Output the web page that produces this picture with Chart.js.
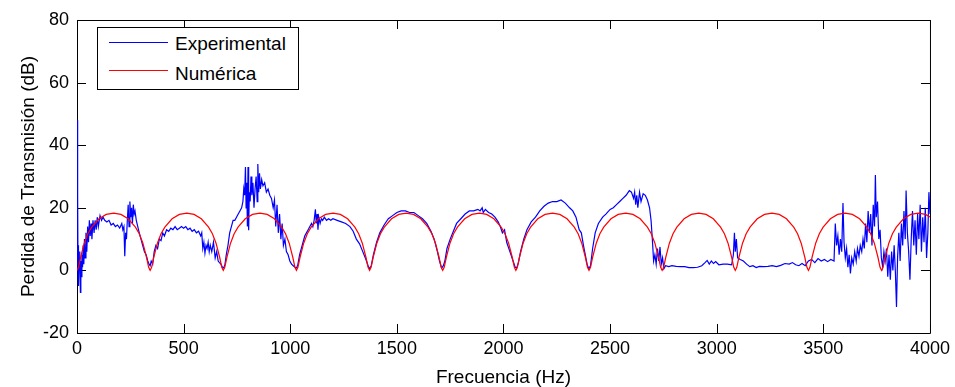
<!DOCTYPE html>
<html>
<head>
<meta charset="utf-8">
<script src="https://cdn.jsdelivr.net/npm/chart.js@4"></script>
<style>
html, body { margin: 0; padding: 0; background: #fff; }
#wrap { position: relative; width: 955px; height: 387px; }
#legend { position: absolute; left: 97px; top: 27px; width: 200px; height: 61px; border: 1px solid #000; background: #fff;
  font-family: "Liberation Sans", Arial, sans-serif; font-size: 19px; line-height: 19px; color: #000; }
.swatch { position: absolute; left: 11px; width: 59px; height: 1.4px; }
.lbl { position: absolute; left: 77px; white-space: nowrap; }
</style>
</head>
<body>
<div id="wrap">
  <canvas id="tl" width="955" height="387"></canvas>
  <div id="legend">
    <div class="swatch" style="top:14px;background:#0000ff"></div>
    <div class="lbl" style="top:6px">Experimental</div>
    <div class="swatch" style="top:42px;background:#ff0000"></div>
    <div class="lbl" style="top:36px">Numérica</div>
  </div>
</div>
<script>
// axis ticks
let xTicks = [0, 500, 1000, 1500, 2000, 2500, 3000, 3500, 4000];
let yTicks = [-20, 0, 20, 40, 60, 80];

// experimental curve (Hz, dB)
let expFreq = [
  0,2,3,4,5,6,8,10,12,14,16,18,20,23,26,29,32,35,38,42,46,50,54,58,62,66,70,75,80,85,90,95,100,108,115,122,130,140,150,160,170,180,190,200,210,215,220,224,228,232,236,240,244,248,252,256,260,264,268,272,278,285,292,300,308,316,324,332,338,343,348,355,362,370,378,386,394,402,410,420,430,440,450,460,470,480,490,500,510,520,530,540,550,560,570,580,585,590,595,600,605,610,615,620,625,632,640,648,655,662,668,675,682,688,694,700,708,716,724,732,740,748,756,764,772,778,782,786,790,793,796,799,802,805,808,812,816,820,825,830,835,840,845,848,852,856,860,866,872,880,888,896,904,912,920,926,932,938,944,950,956,962,968,975,982,990,998,1006,1014,1022,1030,1036,1044,1052,1060,1068,1076,1084,1092,1100,1106,1112,1118,1122,1126,1130,1134,1140,1146,1152,1160,1170,1180,1190,1200,1220,1240,1260,1280,1295,1310,1325,1340,1355,1365,1372,1380,1390,1405,1420,1440,1460,1480,1500,1520,1540,1560,1580,1600,1620,1640,1660,1675,1690,1700,1710,1718,1725,1735,1750,1765,1780,1800,1820,1840,1860,1880,1890,1900,1905,1915,1930,1945,1960,1975,1985,1995,2005,2015,2030,2045,2055,2062,2070,2080,2095,2110,2130,2150,2170,2190,2210,2230,2250,2270,2290,2310,2325,2340,2355,2365,2375,2385,2392,2400,2408,2418,2430,2445,2465,2480,2500,2515,2530,2545,2560,2575,2590,2600,2610,2615,2620,2625,2630,2638,2645,2655,2665,2675,2685,2692,2698,2704,2710,2716,2722,2728,2734,2740,2746,2752,2760,2775,2790,2810,2830,2850,2870,2890,2910,2930,2945,2955,2965,2975,2985,2995,3010,3030,3050,3070,3078,3083,3087,3092,3098,3110,3125,3140,3155,3170,3185,3200,3220,3240,3260,3280,3300,3320,3340,3355,3370,3385,3400,3415,3430,3445,3460,3475,3490,3505,3520,3535,3550,3556,3562,3568,3574,3580,3586,3592,3597,3603,3609,3615,3621,3627,3633,3640,3647,3654,3660,3667,3673,3680,3686,3692,3698,3704,3710,3716,3722,3728,3734,3740,3744,3748,3754,3760,3766,3772,3778,3784,3790,3796,3802,3808,3814,3820,3826,3832,3838,3843,3848,3854,3860,3866,3872,3878,3884,3888,3894,3900,3906,3912,3918,3924,3930,3936,3942,3948,3954,3960,3966,3972,3978,3984,3990,3995,4000
];
let expTL = [
  2,48,5,24,-3,8,-5,4,0,6,-7,3,-2,5,1,8,2,10,4,12,6,14,9,16,11,15,10,16,12,16,13,17,14,17.5,16,17,16,15.5,16,14.5,15,14,14.5,13.5,15,13,14,4.5,12,10,16,21,14,22,17,20,15,21,18,19,16,14,12,10,8,6,5,3,2,1.5,3,2,6,8,7,10,9.5,12,11,13,12.5,13.5,13,14,13,13.5,14,13.5,14,13,13.5,12.5,13,12,12.5,11,12,7,9,5.5,8,7,9,6,8,6,9,4,6,3,2.5,2,1,0.8,2,5,8,12,14,16,16,17,18,19,20,22,26,24,33,20,28,14,33,12.8,25,22,30,24,28,20,26,30,22,34,25,31,26,29,27,28,25,26,24,23,20,22.5,14,21,12,18,10,15,8,10,6,5,3,2,1.5,1,0.8,2,5,7,9,11,12,13,14,15,14,16,19.5,15,18,13,17,15,16.5,16,17,16,16.5,16,16.5,16,15.5,15,14,12.5,10,8.5,6,3.5,1.5,0.5,1.5,5,9,12,14.5,16.5,17.5,18.5,19,19,18.5,18.5,17.5,16.5,15,12.5,10,6,3,0.7,1.5,3,7,10,12.5,15,16.5,18,19,19,19.5,19,20,18.5,19.5,18.5,18,17,15.5,14,12,13,9,6,3,1,0.8,2.5,6,10,13,15.5,17,19,20.5,21.5,22,22,22.5,21.5,20,19,17,13,12,8,4.5,2,0.5,1.5,7,12,15,17,18,19.5,20,21,22,23,24,25.5,25,23,25,21,24,20,25,22,24.5,24,22.5,20,16,10,3,5,2,7,3,7.5,2,4,0.5,1.5,1.2,1.5,1.3,1.2,1.2,0.9,0.9,1,1.5,2.5,3.2,2,3,2.2,2.8,1.8,2,2,1.8,5,12,6,10,4,3.5,3,2,1.2,1.5,0.9,1.3,1.2,1.3,1.5,1.2,1.6,2.2,2,2.5,1.8,1.5,2.2,1.5,3,3.5,2.5,3.8,3,3.5,2.8,3.5,3,15,8,11,5,10,6,21.5,9,4,7,1,5,-1,4,2,6,3,7,4.5,8,6,10,7,15,9,19,12,18,8,21,14,30.5,17,22,10,13,4,1.2,6,3,7,-2,5,-3,6,0,8,-1,-11.7,4,12,3,15,8,19,10,25.5,12,6,-3,10,19,8,16,5,18,10,21,6,17,9,20,4,12,25,18
];

// numerical curve (Hz, dB)
let numFreq = [
  0,7,17,34,51,69,103,137,172,206,240,274,292,309,326,336,
  343,350,360,377,394,412,446,480,515,549,583,617,635,652,669,679,
  686,693,703,720,737,755,789,823,858,892,926,960,978,995,1012,1022,
  1029,1036,1046,1063,1080,1098,1132,1166,1201,1235,1269,1303,1321,1338,1355,1365,
  1372,1379,1389,1406,1423,1441,1475,1509,1544,1578,1612,1646,1664,1681,1698,1708,
  1715,1722,1732,1749,1766,1784,1818,1852,1887,1921,1955,1989,2007,2024,2041,2051,
  2058,2065,2075,2092,2109,2127,2161,2195,2230,2264,2298,2332,2350,2367,2384,2394,
  2401,2408,2418,2435,2452,2470,2504,2538,2573,2607,2641,2675,2693,2710,2727,2737,
  2744,2751,2761,2778,2795,2813,2847,2881,2916,2950,2984,3018,3036,3053,3070,3080,
  3087,3094,3104,3121,3138,3156,3190,3224,3259,3293,3327,3361,3379,3396,3413,3423,
  3430,3437,3447,3464,3481,3499,3533,3567,3602,3636,3670,3704,3722,3739,3756,3766,
  3773,3780,3790,3807,3824,3842,3876,3910,3945,3979,4000
];
let numTL = [
  0,1.0,4.2,8.7,11.7,13.8,16.5,17.9,18.3,17.9,16.5,13.8,11.7,8.7,4.2,1.0,
  0,1.0,4.2,8.7,11.7,13.8,16.5,17.9,18.3,17.9,16.5,13.8,11.7,8.7,4.2,1.0,
  0,1.0,4.2,8.7,11.7,13.8,16.5,17.9,18.3,17.9,16.5,13.8,11.7,8.7,4.2,1.0,
  0,1.0,4.2,8.7,11.7,13.8,16.5,17.9,18.3,17.9,16.5,13.8,11.7,8.7,4.2,1.0,
  0,1.0,4.2,8.7,11.7,13.8,16.5,17.9,18.3,17.9,16.5,13.8,11.7,8.7,4.2,1.0,
  0,1.0,4.2,8.7,11.7,13.8,16.5,17.9,18.3,17.9,16.5,13.8,11.7,8.7,4.2,1.0,
  0,1.0,4.2,8.7,11.7,13.8,16.5,17.9,18.3,17.9,16.5,13.8,11.7,8.7,4.2,1.0,
  0,1.0,4.2,8.7,11.7,13.8,16.5,17.9,18.3,17.9,16.5,13.8,11.7,8.7,4.2,1.0,
  0,1.0,4.2,8.7,11.7,13.8,16.5,17.9,18.3,17.9,16.5,13.8,11.7,8.7,4.2,1.0,
  0,1.0,4.2,8.7,11.7,13.8,16.5,17.9,18.3,17.9,16.5,13.8,11.7,8.7,4.2,1.0,
  0,1.0,4.2,8.7,11.7,13.8,16.5,17.9,18.3,17.9,16.5,13.8,11.7,8.7,4.2,1.0,
  0,1.0,4.2,8.7,11.7,13.8,16.5,17.9,18.3,17.9,17.1
];

function pairs(xs, ys) {
  return xs.map((v, i) => ({ x: v, y: ys[i] }));
}

// matlab style box with ticks pointing inward on all four sides
const boxPlugin = {
  id: "box",
  beforeDatasetsDraw(chart) {
    let ctx = chart.ctx;
    let a = chart.chartArea;
    let sx = chart.scales.x, sy = chart.scales.y;
    let len = 9;
    ctx.save();
    ctx.strokeStyle = "#000";
    ctx.lineWidth = 1;
    ctx.beginPath();
    ctx.rect(a.left + 0.5, a.top + 0.5, a.right - a.left, a.bottom - a.top);
    xTicks.forEach(v => {
      let px = Math.round(sx.getPixelForValue(v)) + 0.5;
      ctx.moveTo(px, a.bottom); ctx.lineTo(px, a.bottom - len);
      ctx.moveTo(px, a.top); ctx.lineTo(px, a.top + len);
    });
    yTicks.forEach(v => {
      let py = Math.round(sy.getPixelForValue(v)) + 0.5;
      ctx.moveTo(a.left, py); ctx.lineTo(a.left + len, py);
      ctx.moveTo(a.right, py); ctx.lineTo(a.right - len, py);
    });
    ctx.stroke();
    ctx.restore();
  }
};

let font = { family: "'Liberation Sans', Arial, sans-serif", size: 18 };
let titleFont = { family: "'Liberation Sans', Arial, sans-serif", size: 19, lineHeight: 1 };

new Chart(document.getElementById("tl"), {
  type: "scatter",
  data: {
    datasets: [
      { label: "Experimental", data: pairs(expFreq, expTL), showLine: true, borderColor: "#0000ff",
        borderWidth: 1.2, pointRadius: 0, tension: 0, order: 1 },
      { label: "Numérica", data: pairs(numFreq, numTL), showLine: true, borderColor: "#ff0000",
        borderWidth: 1.2, pointRadius: 0, tension: 0, order: 0 }
    ]
  },
  options: {
    responsive: false,
    animation: false,
    devicePixelRatio: 1,
    layout: { padding: { left: 0, top: 20, right: 23, bottom: 0 } },
    plugins: { legend: { display: false }, tooltip: { enabled: false } },
    scales: {
      x: {
        type: "linear", min: 0, max: 4000,
        afterBuildTicks: s => { s.ticks = xTicks.map(v => ({ value: v })); },
        afterFit: s => { s.height = 54; },
        grid: { display: false, drawTicks: false },
        border: { display: false },
        ticks: { color: "#000", font: font, padding: 5, maxRotation: 0, callback: v => String(v) },
        title: { display: true, text: "Frecuencia (Hz)", color: "#000", font: titleFont, padding: 0 }
      },
      y: {
        type: "linear", min: -20, max: 80,
        afterBuildTicks: s => { s.ticks = yTicks.map(v => ({ value: v })); },
        afterFit: s => { s.width = 77; },
        grid: { display: false, drawTicks: false },
        border: { display: false },
        ticks: { color: "#000", font: font, padding: 8, callback: v => String(v) },
        title: { display: true, text: "Perdida de Transmisión (dB)", color: "#000", font: titleFont, padding: { top: 19, bottom: 0 } }
      }
    }
  },
  plugins: [boxPlugin]
});
</script>
</body>
</html>
